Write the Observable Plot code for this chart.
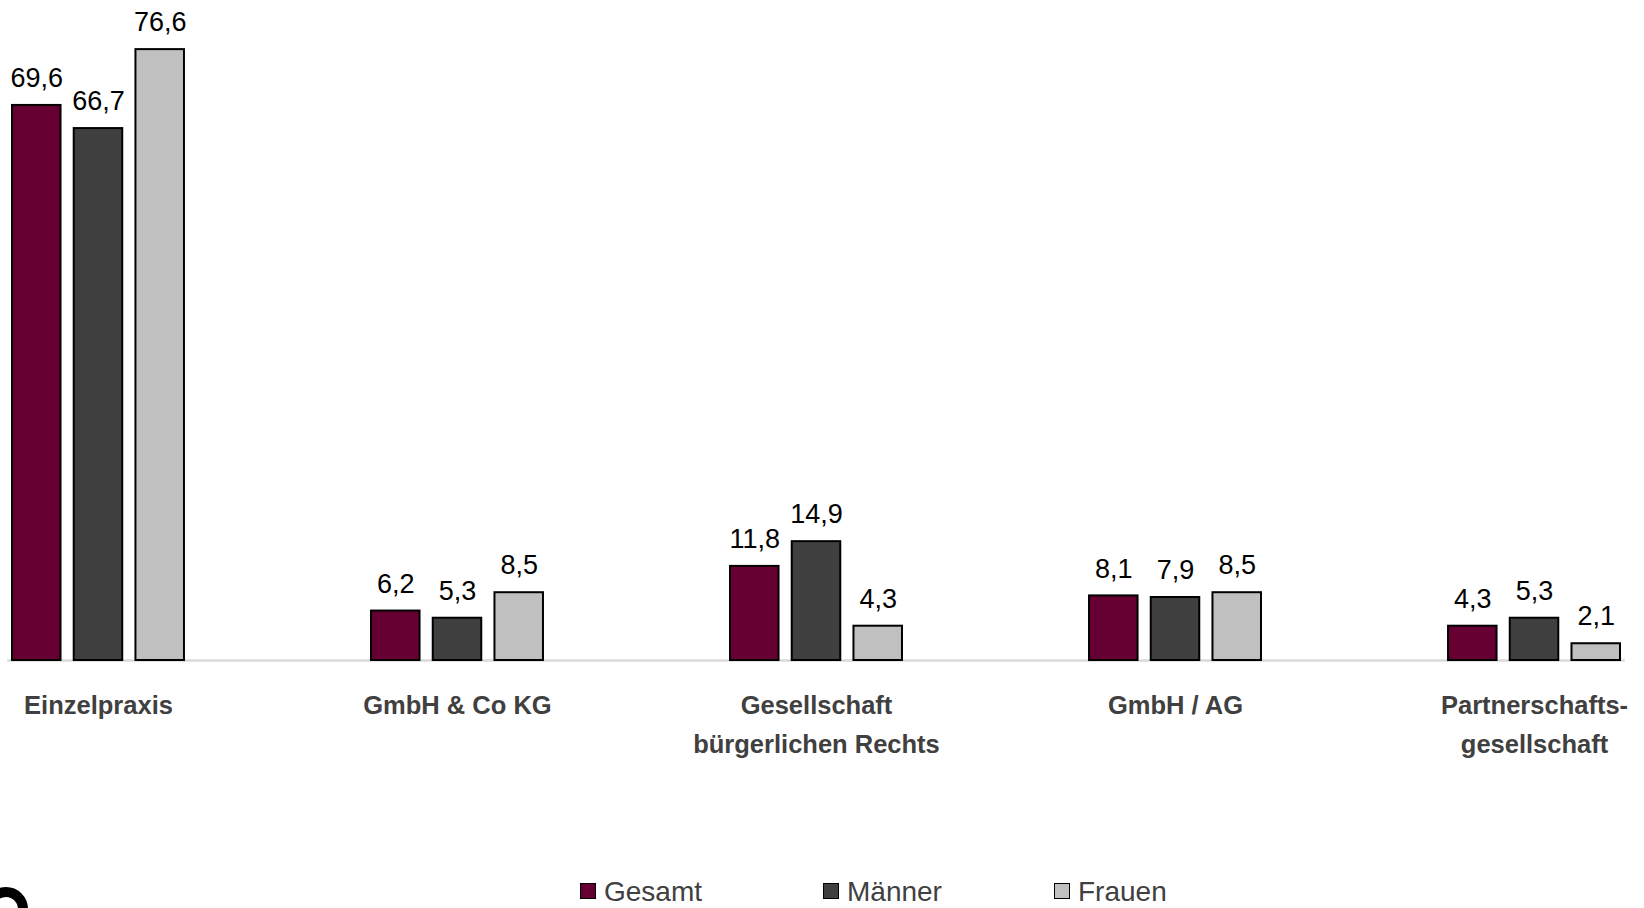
<!DOCTYPE html>
<html>
<head>
<meta charset="utf-8">
<script src="https://cdn.jsdelivr.net/npm/d3@7"></script>
<script src="https://cdn.jsdelivr.net/npm/@observablehq/plot@0.6"></script>
<style>
  html, body { margin: 0; padding: 0; background: #fff; overflow: hidden; }
  body { width: 1644px; height: 908px; position: relative; font-family: "Liberation Sans", Arial, sans-serif; }
  #legend { position: absolute; top: 874px; left: 0; width: 1644px; height: 36px; }
  .item { position: absolute; top: 0; display: flex; align-items: flex-start; font-size: 28px; line-height: 36px; color: #404040; white-space: nowrap; }
  .swatch { width: 14px; height: 14px; border: 1.5px solid #000; margin-top: 9px; margin-right: 8px; }
  #mark { position: absolute; left: -16px; top: 887px; width: 24px; height: 24px; border: 10px solid #000; border-radius: 50%; }
</style>
</head>
<body>
<div id="chart"></div>
<div id="legend"></div>
<div id="mark"></div>
<script>
const categories = ["Einzelpraxis", "GmbH & Co KG", "Gesellschaft\nbürgerlichen Rechts", "GmbH / AG", "Partnerschafts-\ngesellschaft"];
const series = ["Gesamt", "Männer", "Frauen"];
const gesamt = [69.6, 6.2, 11.8, 8.1, 4.3];
const maenner = [66.7, 5.3, 14.9, 7.9, 5.3];
const frauen = [76.6, 8.5, 4.3, 8.5, 2.1];
const colors = ["#660033", "#404040", "#C0C0C0"];

const valuesBySeries = [gesamt, maenner, frauen];
const data = [];
categories.forEach((c, i) => {
  series.forEach((s, j) => data.push({category: c, series: s, value: valuesBySeries[j][i]}));
});
const fmt = d => d.toFixed(1).replace(".", ",");

const chart = Plot.plot({
  width: 1644,
  height: 872,
  marginTop: 22,
  marginBottom: 212,
  marginLeft: 12,
  marginRight: 24,
  style: {fontFamily: '"Liberation Sans", Arial, sans-serif', background: "#fff"},
  facet: {marginTop: 0, marginRight: 0, marginBottom: 0, marginLeft: 0},
  fx: {domain: categories, paddingInner: 0.521, paddingOuter: 0, round: false, axis: null, label: null},
  x: {domain: series, paddingInner: 0.214, paddingOuter: 0, round: false, axis: null, label: null},
  y: {domain: [0, 80], axis: null, label: null},
  color: {domain: series, range: colors},
  marks: [
    Plot.frame({anchor: "bottom", facet: "super", stroke: "#d9d9d9", strokeWidth: 2.5, insetLeft: -4, insetRight: -3}),
    Plot.barY(data, {fx: "category", x: "series", y: "value", fill: "series", stroke: "#000", strokeWidth: 2}),
    Plot.text(data, {fx: "category", x: "series", y: "value", text: d => fmt(d.value), dy: -27, fontSize: 27, fill: "#000"}),
    Plot.axisFx({anchor: "bottom", tickSize: 0, tickPadding: 26, label: null, fontSize: 25.5, fontWeight: "bold", fill: "#404040", lineHeight: 1.52})
  ]
});
document.getElementById("chart").appendChild(chart);

const legend = document.getElementById("legend");
const legendLeft = [580, 823, 1054];
series.forEach((s, j) => {
  const item = document.createElement("div");
  item.className = "item";
  item.style.left = legendLeft[j] + "px";
  const sw = document.createElement("span");
  sw.className = "swatch";
  sw.style.background = colors[j];
  const tx = document.createElement("span");
  tx.textContent = s;
  item.appendChild(sw);
  item.appendChild(tx);
  legend.appendChild(item);
});
</script>
</body>
</html>
